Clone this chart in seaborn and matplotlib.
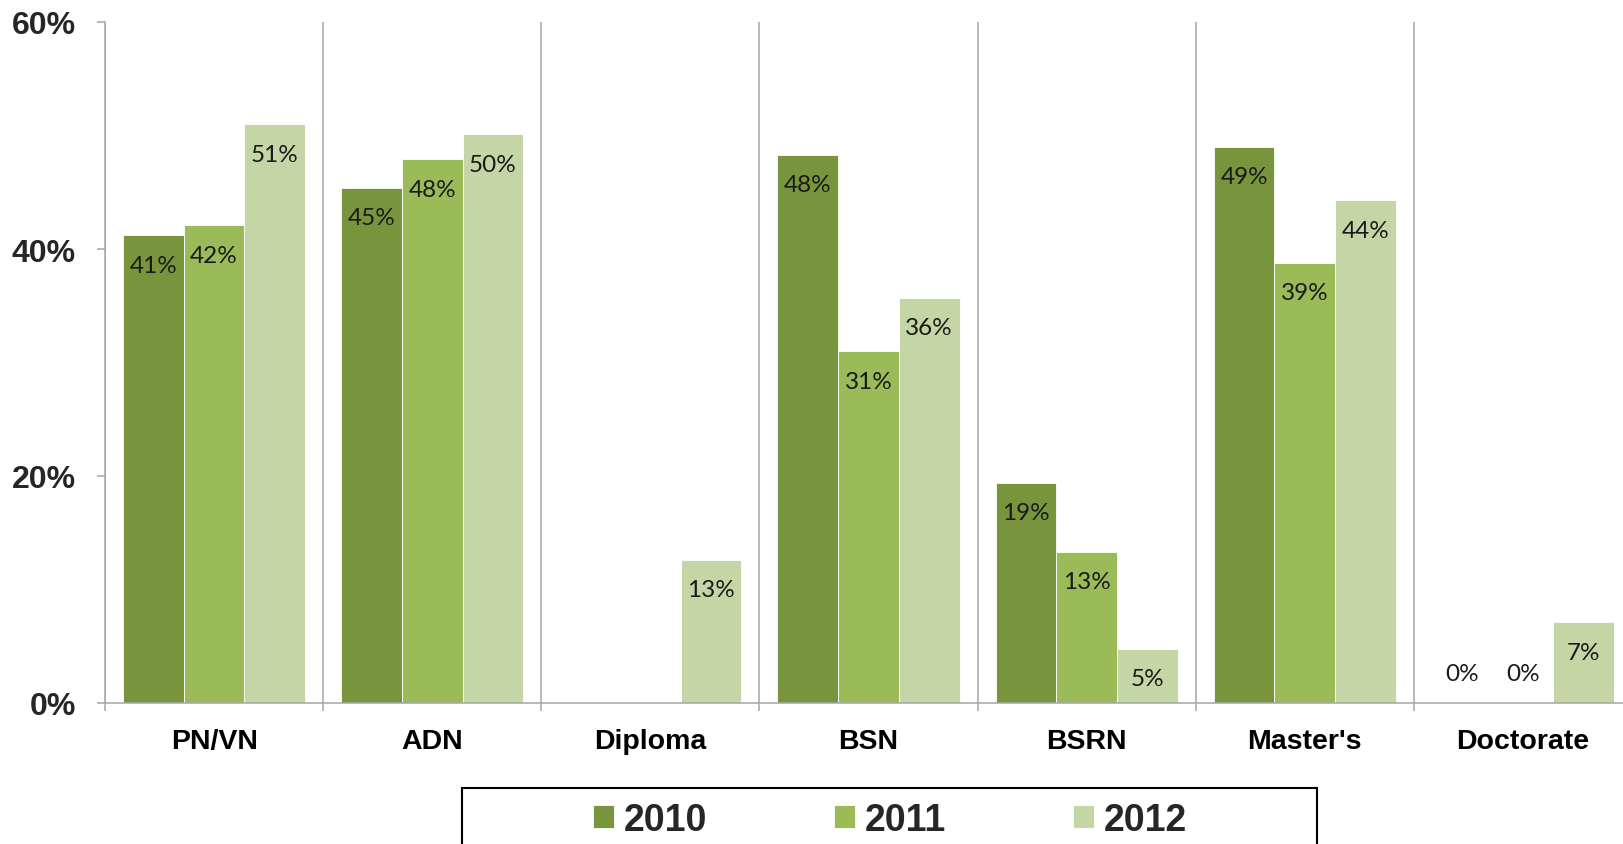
import numpy as np
import pandas as pd
import matplotlib
matplotlib.use('Agg')
import matplotlib.pyplot as plt
from matplotlib.patches import Rectangle
import seaborn as sns

# data (percent)
degrees = ['PN/VN', 'ADN', 'Diploma', 'BSN', 'BSRN', "Master's", 'Doctorate']
years = ['2010', '2011', '2012']
vals_2010 = [41.2, 45.4, np.nan, 48.3, 19.4, 49.0, 0.0]
vals_2011 = [42.1, 47.9, np.nan, 31.0, 13.3, 38.8, 0.0]
vals_2012 = [51.0, 50.1, 12.6, 35.7, 4.8, 44.3, 7.1]
y_ticks = [0, 20, 40, 60]

colors = ['#78953D', '#9BBB59', '#C4D6A6']
axis_gray = '#A6A6A6'

rows = []
for yr, vals in zip(years, [vals_2010, vals_2011, vals_2012]):
    for d, v in zip(degrees, vals):
        rows.append({'degree': d, 'year': yr, 'value': v})
df = pd.DataFrame(rows).dropna()

sns.set_theme(style='white')
plt.rcParams['font.family'] = ['Liberation Sans', 'DejaVu Sans']

W, H = 1624, 845
fig = plt.figure(figsize=(W / 100, H / 100), dpi=100)
ax = fig.add_axes([105 / W, 1 - 704 / H, (1632 - 105) / W, (704 - 23) / H])

sns.barplot(data=df, x='degree', y='value', hue='year', order=degrees,
            hue_order=years, palette=colors, width=0.835, saturation=1,
            edgecolor='white', linewidth=0.6, ax=ax, legend=True)

ax.set_xlim(-0.5, len(degrees) - 0.5)
ax.set_ylim(0, 60)
ax.set_yticks(y_ticks)
ax.set_yticklabels([f'{t}%' for t in y_ticks], fontsize=23, fontweight='bold')
ax.set_xticks(range(len(degrees)))
ax.set_xticklabels(degrees, fontsize=20.5, fontweight='bold')
ax.set_xlabel('')
ax.set_ylabel('')

# category separators
ax.set_xticks(np.arange(-0.5, len(degrees), 1.0), minor=True)
ax.grid(False)
ax.grid(which='minor', axis='x', color=axis_gray, linewidth=1.1)
ax.tick_params(axis='x', which='major', length=0, pad=18, colors='black')
ax.tick_params(axis='x', which='minor', length=6, width=1.1, color=axis_gray,
               direction='out', bottom=True)
ax.tick_params(axis='y', which='major', length=6, width=1.1, color=axis_gray,
               direction='out', left=True, pad=15)

for s in ['top', 'right']:
    ax.spines[s].set_visible(False)
for s in ['left', 'bottom']:
    ax.spines[s].set_color(axis_gray)
    ax.spines[s].set_linewidth(1.1)

# value labels inside the bar tops
for cont in ax.containers:
    for bar in cont:
        h = bar.get_height()
        if np.isnan(h):
            continue
        x = bar.get_x() + bar.get_width() / 2
        off = -21.5 if h > 0 else 21.5
        ax.annotate(f'{h:.0f}%', (x, h), xytext=(0, off), textcoords='offset points',
                    ha='center', va='center', fontsize=17.5, family=['Lato', 'DejaVu Sans'],
                    color='#1a1a1a')

# legend in a black box at the bottom
handles, labels = ax.get_legend_handles_labels()
ax.get_legend().remove()
fig.legend(handles, labels, loc='center', bbox_to_anchor=(890 / W, 1 - 821 / H),
           ncol=3, frameon=False, prop={'size': 27, 'weight': 'bold'},
           handlelength=0.56, handleheight=0.56, handletextpad=0.25,
           columnspacing=3.4)
fig.patches.append(Rectangle((462 / W, -0.05), (1317 - 462) / W, 0.05 + 1 - 789 / H,
                             transform=fig.transFigure, fill=False,
                             edgecolor='black', linewidth=1.5))

fig.savefig('out.png', dpi=100)
